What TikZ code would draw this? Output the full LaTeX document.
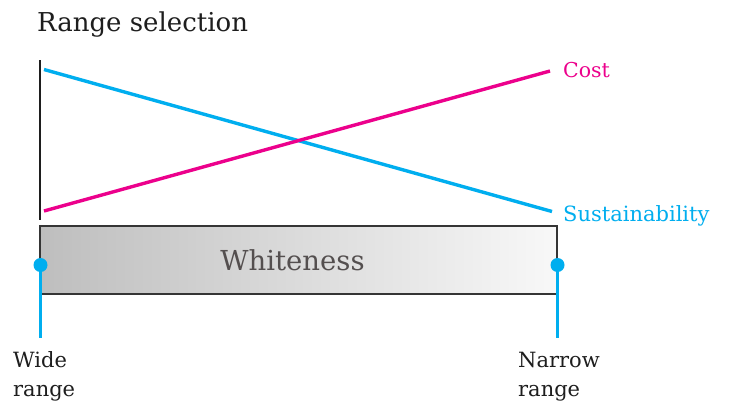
\documentclass[tikz,border=0pt]{standalone}
\usepackage{fontspec}
\setmainfont{DejaVu Serif}
\definecolor{cyanb}{HTML}{00AEEF}
\definecolor{magp}{HTML}{EC008C}
\definecolor{txtk}{HTML}{1E1E1E}
\definecolor{wtxt}{HTML}{544F4F}
\definecolor{barl}{HTML}{BEBEBE}
\definecolor{barr}{HTML}{F8F8F8}
\tikzset{
  lbl/.style={anchor=base west, inner sep=0pt, text=txtk, font=\fontsize{21}{24}\selectfont},
  trend/.style={line width=3.4pt},
  marker/.style={circle, fill=cyanb, minimum size=14pt, inner sep=0pt},
  tick/.style={cyanb, line width=3.4pt},
}
\begin{document}
\begin{tikzpicture}[x=1pt,y=-1pt]
\useasboundingbox[fill=white] (0,0) rectangle (729,405);
% title
\node[anchor=base west, inner sep=0pt, text=txtk, font=\fontsize{26}{30}\selectfont] (title) at (37,31.5) {Range selection};
% axis
\coordinate (axt) at (40,60);
\coordinate (axb) at (40,220);
\draw[txtk, line width=1.3pt] (axt) -- (axb);
% trend lines
\coordinate (s0) at (44,69.5);
\coordinate (s1) at (552,211.5);
\coordinate (c0) at (44,211);
\coordinate (c1) at (550,71);
\draw[trend, cyanb] (s0) -- (s1);
\draw[trend, magp] (c0) -- (c1);
\node[anchor=base west, inner sep=0pt, text=magp, font=\fontsize{20.5}{24}\selectfont] (cost) at (563,77.7) {Cost};
\node[anchor=base west, inner sep=0pt, text=cyanb, font=\fontsize{21}{24}\selectfont] (sust) at (563,221) {Sustainability};
% bar
\node[draw=txtk!90, line width=1.6pt, left color=barl, right color=barr, minimum width=517pt, minimum height=68pt, inner sep=0pt] (bar) at (298.5,260) {};
\node[anchor=base, inner sep=0pt, text=wtxt, font=\fontsize{27.5}{30}\selectfont] (white) at (292.5,270) {Whiteness};
% range markers
\coordinate (dlc) at (40.5,265);
\coordinate (drc) at (557.5,265);
\coordinate (lb) at (40.5,338);
\coordinate (rb) at (557.5,338);
\draw[tick] (dlc) -- (lb);
\draw[tick] (drc) -- (rb);
\node[marker] (dl) at (dlc) {};
\node[marker] (dr) at (drc) {};
% labels
\node[lbl] (wide1) at (13,367.3) {Wide};
\node[lbl] (wide2) at (13,396.7) {range};
\node[lbl] (nar1) at (518,367.3) {Narrow};
\node[lbl] (nar2) at (518,396.7) {range};
\end{tikzpicture}
\end{document}
